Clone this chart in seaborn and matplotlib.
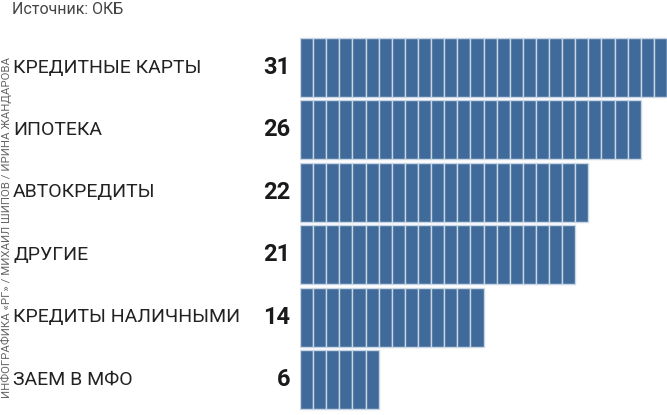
import pandas as pd
import numpy as np
import matplotlib.pyplot as plt
import seaborn as sb

categories = ['КРЕДИТНЫЕ КАРТЫ', 'ИПОТЕКА', 'АВТОКРЕДИТЫ', 'ДРУГИЕ',
              'КРЕДИТЫ НАЛИЧНЫМИ', 'ЗАЕМ В МФО']
values = [31, 26, 22, 21, 14, 6]
source_text = 'Источник: ОКБ'
credit_text = 'ИНФОГРАФИКА «РГ» / МИХАИЛ ШИПОВ / ИРИНА ЖАНДАРОВА'

bar_color = '#3f6a9a'
gap_color = '#c9d6e4'

sb.set_theme(style='white')
plt.rcParams['font.family'] = ['Roboto', 'DejaVu Sans']

df = pd.DataFrame({'category': categories, 'value': values})

fig = plt.figure(figsize=(6.67, 4.15), dpi=100)
ax = fig.add_axes([0.4498, 0.0104, 0.5502, 0.9021])

# full bars first, then the unit cells on top of them
sb.barplot(data=df, x='value', y='category', orient='h', color=bar_color,
           saturation=1, width=0.945, ax=ax)
for i, v in enumerate(values):
    ax.barh(np.full(v, i), np.ones(v), left=np.arange(v), height=0.945,
            color=bar_color, edgecolor=gap_color, linewidth=1.0)

ax.set_xlim(0, 28)
ax.set_ylim(len(values) - 0.5, -0.5)
ax.axis('off')

for i, (c, v) in enumerate(zip(categories, values)):
    ax.text(-0.75, i, str(v), ha='right', va='center', fontsize=17,
            fontweight='bold', color='#1a1a1a')
    fig.text(13 / 667, 1 - (67.5 + i * 62.4) / 415, c, ha='left', va='center',
             fontsize=14, color='#222222')

fig.text(12 / 667, 1 - 10 / 415, source_text, ha='left', va='center',
         fontsize=11.5, color='#444444')
fig.text(0.5 / 667, 1 - 227 / 415, credit_text, rotation=90, ha='left',
         va='center', fontsize=8.2, color='#666666')

fig.savefig('out.png', dpi=100)
